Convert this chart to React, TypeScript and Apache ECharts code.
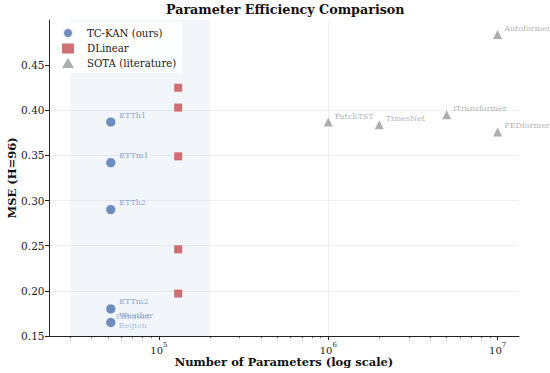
import React, { useEffect, useRef } from "react";
import * as echarts from "echarts";

const tcNames = ["ETTh1", "ETTm1", "ETTh2", "ETTm2", "Weather"];
const tcParams = [52000, 52000, 52000, 52000, 52000];
const tcMse = [0.387, 0.342, 0.290, 0.180, 0.165];

const dlParams = [130000, 130000, 130000, 130000, 130000];
const dlMse = [0.425, 0.403, 0.349, 0.246, 0.197];

const sotaNames = ["PatchTST", "TimesNet", "iTransformer", "Autoformer", "FEDformer"];
const sotaParams = [1000000, 2000000, 5000000, 10000000, 10000000];
const sotaMse = [0.387, 0.384, 0.395, 0.484, 0.376];

const regionRange = [30000, 200000];
const regionLabel = { x: 70000, y: 0.167, text: "Efficient\nRegion" };

const yTicks = [0.15, 0.2, 0.25, 0.3, 0.35, 0.4, 0.45];
const xMajor = [100000, 1000000, 10000000];
const xMinor = [30000, 40000, 50000, 60000, 70000, 80000, 90000,
  200000, 300000, 400000, 500000, 600000, 700000, 800000, 900000,
  2000000, 3000000, 4000000, 5000000, 6000000, 7000000, 8000000, 9000000];
const xMin = 22450;
const xMax = 13370000;
const yMin = 0.15;
const yMax = 0.5;

const FONT = "'DejaVu Serif', serif";
const BLUE = "#4C72B0";
const RED = "#C44E52";
const GRAY = "#9a9a9a";

export default function App() {
  const ref = useRef<HTMLDivElement>(null);
  useEffect(() => {
    if (!ref.current) return;
    const chart = echarts.init(ref.current, null, { renderer: "svg" });
    const sup = (v: number) => `{b|10}{s|${Math.round(Math.log10(v))}}`;
    chart.setOption({
      animation: false,
      textStyle: { fontFamily: FONT },
      title: {
        text: "Parameter Efficiency Comparison",
        left: 161,
        top: -2,
        textStyle: { fontFamily: FONT, fontSize: 12.7, fontWeight: "bold", color: "#111" },
      },
      legend: {
        orient: "vertical",
        left: 62,
        top: 22,
        padding: [5, 6, 5, 0],
        itemWidth: 12,
        itemHeight: 10,
        itemGap: 4.5,
        backgroundColor: "rgba(255,255,255,0.85)",
        textStyle: { fontFamily: FONT, fontSize: 10.2, color: "#222", padding: [0, 0, 0, 8], lineHeight: 10 },
        data: [
          { name: "TC-KAN (ours)", icon: "circle" },
          { name: "DLinear", icon: "rect" },
          { name: "SOTA (literature)", icon: "triangle" },
        ],
      },
      grid: { left: 49, right: 31, top: 20, bottom: 37, containLabel: false, outerBoundsMode: "none" },
      xAxis: [
        {
          type: "log",
          logBase: 10,
          min: xMin,
          max: xMax,
          name: "Number of Parameters (log scale)",
          nameLocation: "middle",
          nameGap: 20,
          nameMoveOverlap: false,
          nameTextStyle: { fontFamily: FONT, fontSize: 11.5, fontWeight: "bold", color: "#111", verticalAlign: "top" },
          axisLine: { lineStyle: { color: "#222", width: 1 } },
          axisTick: { show: true, customValues: xMajor, length: 4, lineStyle: { color: "#222" } },
          axisLabel: {
            customValues: xMajor,
            margin: 5,
            formatter: (v: number) => sup(v),
            rich: {
              b: { fontFamily: FONT, fontSize: 10, color: "#222", lineHeight: 14, verticalAlign: "bottom" },
              s: { fontFamily: FONT, fontSize: 7, color: "#222", lineHeight: 14, verticalAlign: "top" },
            },
          },
          splitLine: { show: true, showMinLine: false, showMaxLine: false, lineStyle: { color: "#ececec", width: 0.8 } },
        },
        {
          type: "log",
          logBase: 10,
          min: xMin,
          max: xMax,
          position: "bottom",
          axisLine: { show: false },
          axisTick: { show: true, customValues: xMinor, length: 2.2, lineStyle: { color: "#222", width: 0.7 } },
          axisLabel: { show: false },
          splitLine: { show: false },
        },
      ],
      yAxis: {
        type: "value",
        min: yMin,
        max: yMax,
        interval: 0.05,
        name: "MSE (H=96)",
        nameLocation: "middle",
        nameGap: 31,
        nameMoveOverlap: false,
        nameTextStyle: { fontFamily: FONT, fontSize: 11.5, fontWeight: "bold", color: "#111" },
        axisLine: { show: true, lineStyle: { color: "#222", width: 1 } },
        axisTick: { show: true, customValues: yTicks, length: 4, lineStyle: { color: "#222" } },
        axisLabel: {
          customValues: yTicks,
          margin: 4.5,
          fontFamily: FONT,
          fontSize: 10.5,
          color: "#222",
          formatter: (v: number) => v.toFixed(2),
        },
        splitLine: { show: true, showMinLine: false, showMaxLine: false, lineStyle: { color: "#ececec", width: 0.8 } },
      },
      series: [
        {
          name: "region",
          type: "scatter",
          data: [[regionLabel.x, regionLabel.y]],
          symbolSize: 0,
          silent: true,
          z: 1,
          label: {
            show: true,
            position: "inside",
            formatter: regionLabel.text,
            fontFamily: FONT,
            fontSize: 8,
            lineHeight: 9,
            color: "rgba(76,114,176,0.55)",
          },
          markArea: {
            silent: true,
            itemStyle: { color: "rgba(76,114,176,0.07)" },
            data: [[{ xAxis: regionRange[0] }, { xAxis: regionRange[1] }]],
          },
        },
        {
          name: "TC-KAN (ours)",
          type: "scatter",
          symbol: "circle",
          symbolSize: 10,
          z: 3,
          itemStyle: { color: BLUE, borderColor: "#fff", borderWidth: 0.8 },
          data: tcNames.map((n, i) => ({ name: n, value: [tcParams[i], tcMse[i]] })),
          label: {
            show: true,
            formatter: "{b}",
            position: "right",
            distance: 3,
            offset: [0, -7],
            fontFamily: FONT,
            fontSize: 8,
            color: "rgba(76,114,176,0.8)",
          },
        },
        {
          name: "DLinear",
          type: "scatter",
          symbol: "rect",
          symbolSize: 8,
          z: 3,
          itemStyle: { color: RED },
          data: dlParams.map((p, i) => [p, dlMse[i]]),
        },
        {
          name: "SOTA (literature)",
          type: "scatter",
          symbol: "triangle",
          symbolSize: 9,
          z: 3,
          itemStyle: { color: GRAY },
          data: sotaNames.map((n, i) => ({ name: n, value: [sotaParams[i], sotaMse[i]] })),
          label: {
            show: true,
            formatter: "{b}",
            position: "right",
            distance: 2,
            offset: [0, -6],
            fontFamily: FONT,
            fontSize: 8,
            color: "#a0a0a0",
          },
        },
      ],
    });
    return () => chart.dispose();
  }, []);
  return <div ref={ref} style={{ width: 550, height: 373, position: "absolute", left: 0, top: 0 }} />;
}
